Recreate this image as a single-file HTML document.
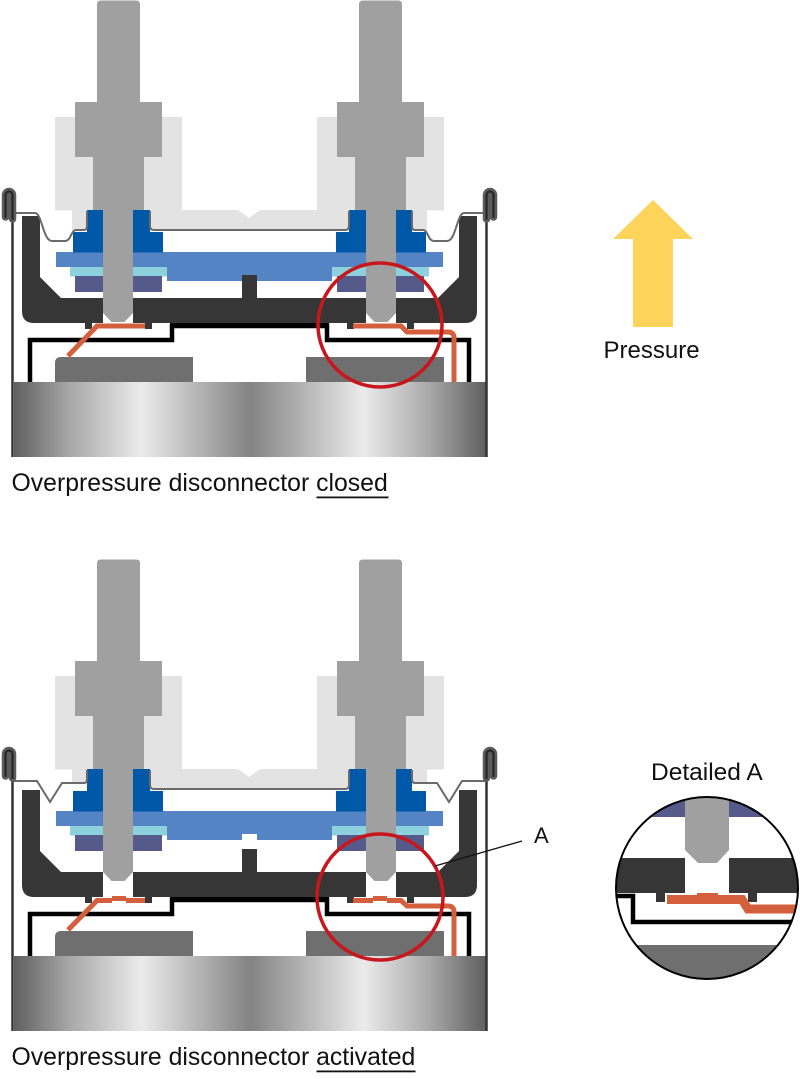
<!DOCTYPE html>
<html><head><meta charset="utf-8"><style>
html,body{margin:0;padding:0;background:#fff;}
svg{display:block;}
text{font-family:"Liberation Sans",Arial,sans-serif;fill:#111;}
</style></head><body>
<svg width="800" height="1079" viewBox="0 0 800 1079" xmlns="http://www.w3.org/2000/svg">
<defs>
<linearGradient id="metal" gradientUnits="userSpaceOnUse" x1="14" y1="0" x2="486" y2="0">
 <stop offset="0" stop-color="#5f5f5f"/>
 <stop offset="0.12" stop-color="#a9a9a9"/>
 <stop offset="0.27" stop-color="#ebebeb"/>
 <stop offset="0.5" stop-color="#838383"/>
 <stop offset="0.74" stop-color="#ebebeb"/>
 <stop offset="0.88" stop-color="#a9a9a9"/>
 <stop offset="1" stop-color="#5f5f5f"/>
</linearGradient>

<g id="housing">
  <rect x="14" y="382" width="472" height="75" fill="url(#metal)"/>
  <path d="M55,382 V363 Q55,357 61,357 H193 V382 Z" fill="#706f6f"/>
  <rect x="306" y="357" width="138" height="25" fill="#706f6f"/>
  <rect x="170" y="321" width="159" height="7" fill="#000"/>
  <path d="M30,382 V340 H172 V326 H327 V340 H469 V382" fill="none" stroke="#000" stroke-width="4.5"/>
  <path d="M22,216 H40 V277 L61,298 H438 L459,277 V216 H477 V311 Q477,323 465,323 H34 Q22,323 22,311 Z" fill="#363636"/>
  <rect x="85" y="321" width="7" height="8" fill="#363636"/>
  <rect x="145" y="321" width="7" height="8" fill="#363636"/>
  <rect x="347" y="321" width="7" height="8" fill="#363636"/>
  <rect x="407" y="321" width="7" height="8" fill="#363636"/>
  <rect x="242" y="275" width="15" height="24" fill="#363636"/>
  <rect x="103" y="298" width="30" height="25.5" fill="#fff"/>
  <rect x="366" y="298" width="30" height="25.5" fill="#fff"/>
</g>

<path id="term" d="M97,102 V4 Q97,0.5 101,0.5 H136 Q140,0.5 140,4 V102 H162 V157 H144 V210 H133 V313 L124.5,322 H111.5 L103,313 V210 H93 V157 H75 V102 Z" fill="#a0a0a0"/>

<g id="blueHalf">
  <rect x="87" y="210" width="16" height="23" fill="#0058a8"/>
  <rect x="133" y="210" width="17" height="23" fill="#0058a8"/>
  <rect x="73" y="232" width="90" height="20.5" fill="#0058a8"/>
  <rect x="70" y="267" width="97" height="9.5" fill="#8dd1de"/>
  <rect x="75" y="276" width="87" height="16" fill="#565a8b"/>
</g>

<g id="lid">
  <rect x="55" y="117" width="127" height="93.5" fill="#e3e3e3"/>
  <rect x="317" y="117" width="127" height="93.5" fill="#e3e3e3"/>
  <path d="M87,210 H238 L249,218 L260,210 H412 V230 H87 Z" fill="#e3e3e3"/>
  <path d="M56,252 H443 V267 H332 V281 H257 V275 H242 V281 H167 V267 H56 Z" fill="#5584c4"/>
  <use href="#blueHalf"/>
  <use href="#blueHalf" transform="matrix(-1,0,0,1,499,0)"/>
  <use href="#term"/>
  <use href="#term" transform="matrix(-1,0,0,1,499,0)"/>
  <path d="M150,211 V226 Q150,230 154,230 H345 Q349,230 349,226 V211" fill="none" stroke="#6a6a6a" stroke-width="2"/>
</g>

<g id="crimp">
  <path d="M12.5,219 V195 A3.5,3.5 0 0 0 5.5,195 V217" fill="none" stroke="#5c5c5c" stroke-width="7.5" stroke-linecap="round"/>
  <path d="M12.5,219 V195 A3.5,3.5 0 0 0 5.5,195 V217" fill="none" stroke="#262626" stroke-width="2.2" stroke-linecap="round"/>
</g>

<path id="memC" d="M14,213 H35 C42,213 43,241 52,241 H65 C71,241 71,230 76,230 H84 Q87,230 87,226 V211" fill="none" stroke="#6a6a6a" stroke-width="2"/>
<path id="memA" d="M14,222 H37 L50,243 L62,224 H84 Q87,224 87,220 V211" fill="none" stroke="#6a6a6a" stroke-width="2"/>

<clipPath id="dc"><circle cx="707" cy="888" r="91"/></clipPath>
</defs>

<!-- ============ CLOSED ============ -->
<use href="#housing"/>
<path d="M68,356 L97,326 H145" fill="none" stroke="#d45f3c" stroke-width="5"/>
<path d="M353,326 H401 L407,332 H448 Q454,332 454,338 V382" fill="none" stroke="#d45f3c" stroke-width="5"/>
<rect x="72" y="210" width="15" height="20" fill="#e3e3e3"/>
<rect x="412" y="210" width="15" height="20" fill="#e3e3e3"/>
<use href="#lid"/>
<use href="#memC"/>
<use href="#memC" transform="matrix(-1,0,0,1,499,0)"/>
<path d="M12.5,195 V457" stroke="#333" stroke-width="2.5" fill="none"/>
<path d="M486.5,195 V457" stroke="#333" stroke-width="2.5" fill="none"/>
<use href="#crimp"/>
<use href="#crimp" transform="matrix(-1,0,0,1,499,0)"/>
<circle cx="380" cy="325" r="62" fill="none" stroke="#c8161d" stroke-width="3.5"/>

<text x="11.5" y="491" font-size="24.8">Overpressure disconnector closed</text>
<rect x="316.5" y="496.5" width="72" height="1.8" fill="#111"/>

<!-- Pressure arrow -->
<polygon points="653,200 693,239 673,239 673,327 633,327 633,239 613,239" fill="#fdd35a"/>
<text x="603.5" y="358" font-size="24">Pressure</text>

<!-- ============ ACTIVATED ============ -->
<g transform="translate(0,574)">
  <use href="#housing"/>
  <path d="M68,356 L97,326.5 H112 M126,326.5 H145" fill="none" stroke="#d45f3c" stroke-width="5"/>
  <path d="M112,324.5 H126" fill="none" stroke="#d45f3c" stroke-width="5"/>
  <path d="M353,326.5 H373 M387,326.5 H401 L407,332 H448 Q454,332 454,338 V382" fill="none" stroke="#d45f3c" stroke-width="5"/>
  <path d="M373,324.5 H387" fill="none" stroke="#d45f3c" stroke-width="5"/>
</g>
<g transform="translate(0,559)">
  <rect x="72" y="210" width="15" height="14" fill="#e3e3e3"/>
  <rect x="412" y="210" width="15" height="14" fill="#e3e3e3"/>
  <use href="#lid"/>
  <use href="#memA"/>
  <use href="#memA" transform="matrix(-1,0,0,1,499,0)"/>
</g>
<path d="M12.5,754 V1031" stroke="#333" stroke-width="2.5" fill="none"/>
<path d="M486.5,754 V1031" stroke="#333" stroke-width="2.5" fill="none"/>
<g transform="translate(0,559)">
  <use href="#crimp"/>
  <use href="#crimp" transform="matrix(-1,0,0,1,499,0)"/>
</g>
<circle cx="380" cy="897" r="63" fill="none" stroke="#c8161d" stroke-width="3.5"/>
<line x1="435" y1="866" x2="522" y2="841" stroke="#111" stroke-width="1.3"/>
<text x="534" y="843" font-size="22">A</text>

<text x="11.5" y="1065" font-size="24.8">Overpressure disconnector activated</text>
<rect x="316.5" y="1070.5" width="99" height="1.8" fill="#111"/>

<!-- ============ DETAIL A ============ -->
<text x="651" y="780" font-size="24.5">Detailed A</text>
<g clip-path="url(#dc)">
  <rect x="600" y="780" width="210" height="37" fill="#565a8b"/>
  <rect x="600" y="858" width="210" height="35" fill="#363636"/>
  <rect x="685" y="858" width="44" height="35" fill="#fff"/>
  <path d="M685,780 V850 L698,863 H717 L729,850 V780 Z" fill="#a0a0a0"/>
  <rect x="656" y="892" width="9" height="10" fill="#363636"/>
  <rect x="748" y="892" width="9" height="10" fill="#363636"/>
  <path d="M600,896 H633 V922 H810" fill="none" stroke="#000" stroke-width="4.5"/>
  <path d="M667,899.5 H742 L748,909 H810" fill="none" stroke="#d45f3c" stroke-width="9"/>
  <rect x="697" y="893" width="21" height="9" fill="#d45f3c"/>
  <rect x="600" y="945" width="210" height="60" fill="#706f6f"/>
</g>
<circle cx="707" cy="888" r="91" fill="none" stroke="#000" stroke-width="2"/>
</svg>
</body></html>
